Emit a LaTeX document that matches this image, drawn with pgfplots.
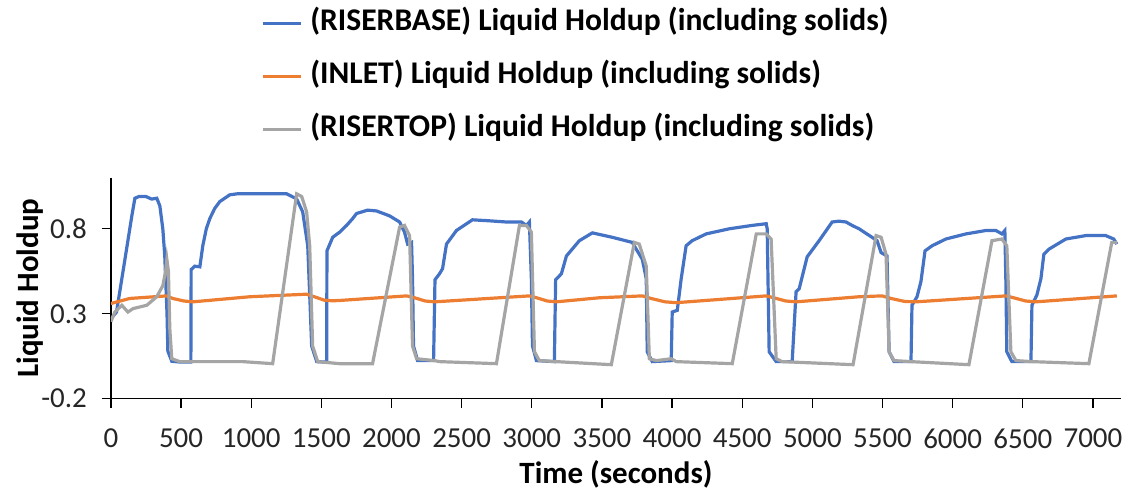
\documentclass[border=0pt]{standalone}
\usepackage{pgfplots}
\pgfplotsset{compat=1.18}
\usepackage{fontspec}
\setmainfont{Carlito}
\definecolor{cblue}{HTML}{4472C4}
\definecolor{corange}{HTML}{ED7D31}
\definecolor{cgray}{HTML}{A5A5A5}
\definecolor{txt}{HTML}{262626}
\begin{document}
\begin{tikzpicture}
\begin{axis}[
  scale only axis,
  width=505.5pt, height=110.5pt,
  xmin=0, xmax=7200, ymin=-0.2, ymax=1.1,
  xtick={0,500,...,7000},
  ytick={-0.2,0.3,0.8},
  yticklabels={-0.2,0.3,0.8},
  axis lines=left,
  axis line style={-, black, line width=0.6pt},
  tick align=outside,
  major tick length=4.5pt,
  tick style={black, line width=0.6pt},
  /pgf/number format/assume math mode=true,
  /pgf/number format/1000 sep={},
  ticklabel style={font=\fontsize{14.5}{16}\selectfont, text=txt},
  xticklabel style={yshift=-7pt},
  yticklabel style={xshift=-4pt},
  xlabel={\textbf{Time (seconds)}},
  ylabel={\textbf{Liquid Holdup}},
  label style={font=\fontsize{15.5}{18}\selectfont, text=black},
  xlabel style={at={([yshift=-38pt]axis description cs:0.5,0)}, anchor=center},
  ylabel style={at={([xshift=-40.5pt]axis description cs:0,0.5)}, anchor=center},
  legend style={at={(0,1)}, anchor=north west, xshift=75pt, yshift=84pt,
    draw=none, fill=none, inner sep=0pt,
    font=\fontsize{15.8}{18}\selectfont\bfseries,
    nodes={inner sep=0pt, text height=10pt, text depth=3pt},
    row sep=13.5pt, column sep=4pt},
  legend cell align=left,
  legend image code/.code={\draw[#1] (0pt,0pt) -- (19pt,0pt);},
]
\addplot[cblue, line width=1.6pt] coordinates {
(0,0.27)(40,0.31)(100,0.62)(150,0.88)(171,0.98)(200,0.99)(250,0.99)(290,0.975)(327,0.98)
(349,0.935)(370,0.80)(384,0.64)(400,0.30)(406,0.08)(434,0.02)(500,0.015)(570,0.015)
(572,0.56)(598,0.58)(634,0.576)(655,0.70)(680,0.80)(705,0.86)(740,0.92)(776,0.96)(847,1.0)
(900,1.006)(1253,1.006)(1324,0.976)(1367,0.90)(1403,0.70)(1420,0.35)(1431,0.11)(1467,0.018)
(1538,0.015)(1540,0.67)(1581,0.75)(1630,0.78)(1680,0.82)(1723,0.86)(1751,0.89)(1830,0.91)
(1894,0.905)(1987,0.876)(2058,0.84)(2093,0.78)(2115,0.71)(2143,0.72)(2150,0.506)(2157,0.11)
(2186,0.024)(2300,0.024)(2310,0.50)(2342,0.535)(2364,0.565)(2392,0.71)(2463,0.79)(2577,0.853)
(2698,0.847)(2820,0.84)(2926,0.84)(2962,0.82)(2983,0.84)(2997,0.506)(3005,0.11)(3033,0.024)
(3161,0.018)(3170,0.50)(3211,0.535)(3247,0.64)(3339,0.73)(3432,0.776)(3574,0.75)(3716,0.72)
(3752,0.67)(3788,0.62)(3816,0.506)(3823,0.076)(3859,0.018)(3994,0.024)(4001,0.31)(4037,0.32)
(4065,0.506)(4100,0.70)(4143,0.73)(4243,0.77)(4407,0.80)(4571,0.82)(4671,0.83)(4678,0.80)
(4692,0.076)(4742,0.018)(4856,0.018)(4884,0.43)(4906,0.447)(4963,0.635)(5048,0.73)(5141,0.84)
(5190,0.845)(5240,0.84)(5283,0.82)(5333,0.80)(5425,0.75)(5461,0.73)(5490,0.66)(5511,0.65)
(5532,0.64)(5547,0.076)(5582,0.018)(5703,0.018)(5710,0.35)(5746,0.40)(5774,0.49)(5803,0.67)
(5853,0.70)(5952,0.74)(6095,0.77)(6237,0.79)(6308,0.79)(6351,0.77)(6372,0.79)(6379,0.506)
(6386,0.076)(6422,0.018)(6558,0.018)(6565,0.35)(6600,0.41)(6629,0.506)(6650,0.65)(6686,0.68)
(6807,0.74)(6949,0.76)(7091,0.76)(7148,0.74)(7170,0.71)
};
\addlegendentry{(RISERBASE) Liquid Holdup (including solids)}
\addplot[corange, line width=1.6pt] coordinates {
(0,0.36)(135,0.39)(399,0.405)(440,0.39)(520,0.375)(584,0.37)(990,0.40)(1395,0.415)(1450,0.40)
(1520,0.38)(1581,0.376)(1630,0.378)(2108,0.405)(2160,0.395)(2240,0.375)(2307,0.37)(2983,0.405)
(3030,0.395)(3110,0.375)(3175,0.37)(3482,0.394)(3788,0.405)(3850,0.39)(3950,0.37)(4030,0.365)
(4671,0.405)(4720,0.395)(4810,0.375)(4884,0.37)(5333,0.40)(5497,0.405)(5560,0.39)(5660,0.372)
(5739,0.37)(6379,0.405)(6430,0.395)(6520,0.375)(6593,0.37)(7170,0.405)
};
\addlegendentry{(INLET) Liquid Holdup (including solids)}
\addplot[cgray, line width=1.6pt] coordinates {
(0,0.253)(28,0.31)(78,0.35)(121,0.31)(157,0.33)(256,0.35)(327,0.40)(370,0.465)(390,0.55)
(399,0.62)(410,0.55)(420,0.21)(434,0.035)(491,0.018)(940,0.018)(1153,0.006)(1324,1.006)
(1360,0.99)(1395,0.9)(1417,0.70)(1438,0.11)(1474,0.018)(1630,0.006)(1865,0.006)(2058,0.81)
(2093,0.82)(2129,0.76)(2150,0.11)(2179,0.035)(2307,0.024)(2342,0.018)(2748,0.006)(2912,0.82)
(2962,0.82)(2997,0.78)(3019,0.076)(3054,0.024)(3175,0.018)(3567,0.0)(3731,0.72)(3766,0.71)
(3816,0.58)(3838,0.035)(3888,0.024)(3994,0.035)(4030,0.018)(4429,0.006)(4600,0.77)(4671,0.77)
(4706,0.74)(4742,0.035)(4785,0.018)(5290,0.0)(5454,0.76)(5490,0.75)(5525,0.65)(5547,0.076)
(5582,0.024)(5703,0.018)(6116,0.0)(6280,0.73)(6351,0.74)(6386,0.70)(6415,0.076)(6451,0.024)
(6565,0.018)(6971,0.006)(7134,0.72)(7170,0.72)
};
\addlegendentry{(RISERTOP) Liquid Holdup (including solids)}
\end{axis}
\pgfresetboundingbox
\useasboundingbox ([shift={(-55.5pt,-47pt)}]current axis.south west) rectangle ([shift={(0.5pt,89pt)}]current axis.north east);
\end{tikzpicture}
\end{document}
